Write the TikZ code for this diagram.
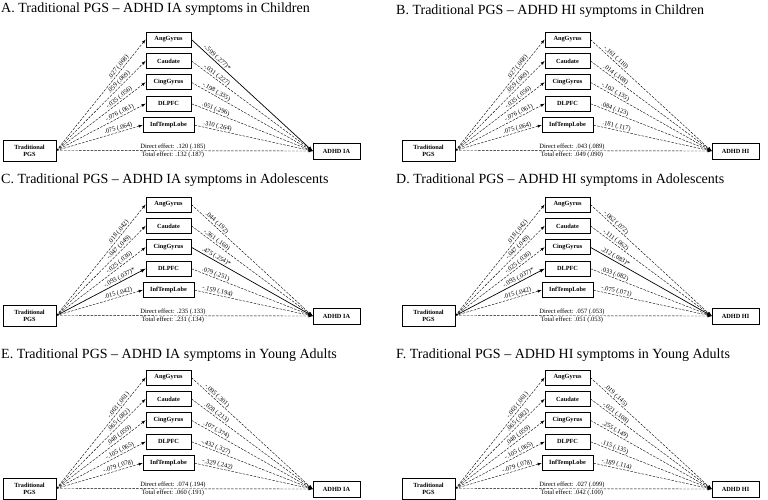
\documentclass[tikz,border=0pt]{standalone}
\usepackage{fontspec}
\setmainfont{Liberation Serif}

\tikzset{
    var/.style={draw, line width=0.8pt, font=\fontsize{6.3}{7.2}\selectfont\bfseries,
        minimum width=45pt, minimum height=15pt, inner xsep=7pt, inner ysep=1pt},
    lbl/.style={font=\fontsize{6.5}{7.5}\selectfont, sloped, above, inner sep=0.6pt},
    ttl/.style={font=\fontsize{14}{16}\selectfont, inner sep=0pt, anchor=base west},
    nonsig/.style={->, >=latex, line width=0.4pt, dash pattern=on 2.5pt off 1.3pt},
    signif/.style={->, >=latex, line width=0.7pt}
}

% #1 shift, #2 panel, #3 outcome, #4 sample, #5 a paths, #6 b paths, #7 direct, #8 total, #9 title
\newcommand{\medpanel}[9]{%
    \begin{scope}[shift={(#1)}]
        \node [ttl] (#2-title) at (#9) {#2. Traditional PGS -- ADHD #3 symptoms in #4};
        \node [var, minimum width=53pt, minimum height=21pt, inner xsep=2pt, align=center] (#2-pgs) at (29.5,150.5) {Traditional\\PGS};
        \node [var, minimum width=47pt, minimum height=16pt] (#2-out) at (336.5,151) {ADHD #3};
        \foreach \m [count=\i from 0] in {AngGyrus,Caudate,CingGyrus,DLPFC,InfTempLobe} {
            \node [var] (#2-\m) at (168.5,39.5+21.4*\i) {\m};
        }
        \foreach \m/\lab/\sty in {#5} {
            \draw [\sty] (#2-pgs.east) -- (#2-\m.west) node [lbl, pos=0.73] {\lab};
        }
        \foreach \m/\lab/\sty in {#6} {
            \draw [\sty] (#2-\m.east) -- (#2-out.west) node [lbl, pos=0.19] {\lab};
        }
        \draw [nonsig] (#2-pgs.east) -- (#2-out.west)
            node [lbl, pos=0.455] {Direct effect: #7}
            node [lbl, below, pos=0.455] {Total effect: #8};
    \end{scope}}

\begin{document}
\begin{tikzpicture}[x=1pt, y=-1pt]
    \useasboundingbox (0,0) rectangle (768,499);

    \medpanel{0,0}{A}{IA}{Children}
        {AngGyrus/.027 (.068)/nonsig, Caudate/.059 (.069)/nonsig, CingGyrus/-.035 (.056)/nonsig, DLPFC/-.076 (.061)/nonsig, InfTempLobe/.075 (.064)/nonsig}
        {AngGyrus/-.599 (.277)*/signif, Caudate/-.031 (.227)/nonsig, CingGyrus/-.198 (.335)/nonsig, DLPFC/.051 (.296)/nonsig, InfTempLobe/.310 (.264)/nonsig}
        {.120 (.185)}{.132 (.187)}{1,12.5}

    \medpanel{399,0}{B}{HI}{Children}
        {AngGyrus/.027 (.068)/nonsig, Caudate/.059 (.069)/nonsig, CingGyrus/-.035 (.056)/nonsig, DLPFC/-.076 (.061)/nonsig, InfTempLobe/.075 (.064)/nonsig}
        {AngGyrus/-.161 (.110)/nonsig, Caudate/.014 (.108)/nonsig, CingGyrus/-.102 (.135)/nonsig, DLPFC/.084 (.123)/nonsig, InfTempLobe/.181 (.117)/nonsig}
        {.043 (.089)}{.049 (.090)}{-3,14}

    \medpanel{0,165}{C}{IA}{Adolescents}
        {AngGyrus/.018 (.042)/nonsig, Caudate/-.047 (.049)/nonsig, CingGyrus/-.025 (.036)/nonsig, DLPFC/-.093 (.037)*/signif, InfTempLobe/.015 (.042)/nonsig}
        {AngGyrus/.044 (.192)/nonsig, Caudate/-.361 (.160)/nonsig, CingGyrus/.475 (.254)*/signif, DLPFC/.079 (.251)/nonsig, InfTempLobe/-.159 (.194)/nonsig}
        {.235 (.133)}{.231 (.134)}{1,18}

    \medpanel{399,165}{D}{HI}{Adolescents}
        {AngGyrus/.018 (.042)/nonsig, Caudate/-.047 (.049)/nonsig, CingGyrus/-.025 (.036)/nonsig, DLPFC/-.093 (.037)*/signif, InfTempLobe/.015 (.042)/nonsig}
        {AngGyrus/-.062 (.072)/nonsig, Caudate/-.111 (.062)/nonsig, CingGyrus/.212 (.083)*/signif, DLPFC/.033 (.082)/nonsig, InfTempLobe/-.075 (.071)/nonsig}
        {.057 (.053)}{.051 (.053)}{-3,18}

    \medpanel{0,338}{E}{IA}{Young Adults}
        {AngGyrus/-.063 (.061)/nonsig, Caudate/.065 (.082)/nonsig, CingGyrus/.048 (.059)/nonsig, DLPFC/-.105 (.065)/nonsig, InfTempLobe/-.079 (.078)/nonsig}
        {AngGyrus/-.095 (.301)/nonsig, Caudate/.028 (.213)/nonsig, CingGyrus/.107 (.374)/nonsig, DLPFC/-.432 (.327)/nonsig, InfTempLobe/-.329 (.242)/nonsig}
        {.074 (.194)}{.060 (.191)}{1,20}

    \medpanel{399,338}{F}{HI}{Young Adults}
        {AngGyrus/-.063 (.061)/nonsig, Caudate/.065 (.082)/nonsig, CingGyrus/.048 (.059)/nonsig, DLPFC/-.105 (.065)/nonsig, InfTempLobe/-.079 (.078)/nonsig}
        {AngGyrus/.019 (.145)/nonsig, Caudate/-.021 (.108)/nonsig, CingGyrus/.255 (.149)/nonsig, DLPFC/.115 (.135)/nonsig, InfTempLobe/-.189 (.114)/nonsig}
        {.027 (.099)}{.042 (.100)}{-3,20}

\end{tikzpicture}
\end{document}
